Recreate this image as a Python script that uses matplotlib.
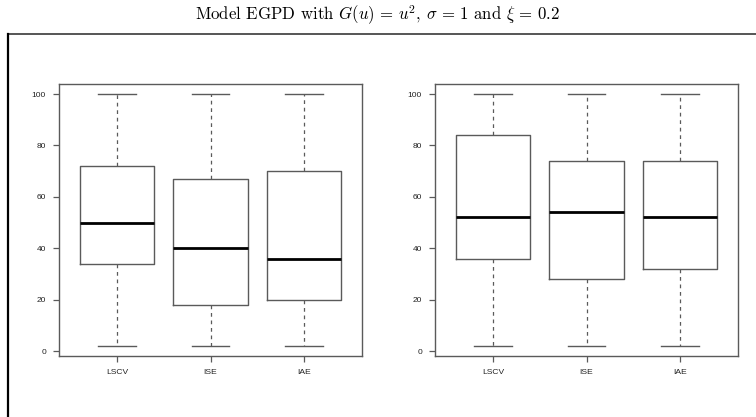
import matplotlib
matplotlib.use("Agg")
import matplotlib.pyplot as plt
from matplotlib.lines import Line2D

# bandwidth selectors on the x axis
methods = ["LSCV", "ISE", "IAE"]

# left panel: five-number summaries
left_low = [2, 2, 2]
left_q1 = [34, 18, 20]
left_med = [50, 40, 36]
left_q3 = [72, 67, 70]
left_high = [100, 100, 100]

# right panel
right_low = [2, 2, 2]
right_q1 = [36, 28, 32]
right_med = [52, 54, 52]
right_q3 = [84, 74, 74]
right_high = [100, 100, 100]

yticks = [0, 20, 40, 60, 80, 100]

plt.rcParams["mathtext.fontset"] = "cm"
plt.rcParams["font.family"] = ["Liberation Sans", "DejaVu Sans"]

W, H = 756, 417
fig = plt.figure(figsize=(W / 100, H / 100), dpi=100)

grey = "#5a5a5a"


def make_stats(low, q1, med, q3, high):
    stats = []
    for i in range(len(methods)):
        stats.append({"whislo": low[i], "q1": q1[i], "med": med[i],
                      "q3": q3[i], "whishi": high[i], "fliers": [],
                      "label": methods[i]})
    return stats


def draw_panel(ax, stats):
    ax.bxp(stats, positions=[1, 2, 3], widths=0.8, showfliers=False,
           boxprops=dict(color=grey, linewidth=1.0),
           medianprops=dict(color="black", linewidth=2.0),
           whiskerprops=dict(color=grey, linewidth=0.9, linestyle=(0, (3, 3))),
           capprops=dict(color=grey, linewidth=1.0),
           capwidths=0.4)
    ax.set_xlim(0.38, 3.62)
    ax.set_ylim(-1.92, 103.92)
    ax.set_yticks(yticks)
    ax.set_xticks([1, 2, 3])
    ax.set_xticklabels(methods)
    ax.tick_params(axis="y", length=4, width=0.9, color=grey, pad=5.4,
                   labelsize=6.0, labelcolor="#222222")
    ax.tick_params(axis="x", length=4, width=0.9, color=grey, pad=5.5,
                   labelsize=6.1, labelcolor="#222222")
    for s in ax.spines.values():
        s.set_color(grey)
        s.set_linewidth(1.0)


axl = fig.add_axes([59 / W, 1 - 356 / H, 303 / W, 272 / H])
draw_panel(axl, make_stats(left_low, left_q1, left_med, left_q3, left_high))

axr = fig.add_axes([435 / W, 1 - 356 / H, 303 / W, 272 / H])
draw_panel(axr, make_stats(right_low, right_q1, right_med, right_q3, right_high))

# outer frame (only top and left edges are visible)
fig.add_artist(Line2D([8 / W, 1], [1 - 34 / H, 1 - 34 / H], color="#555555",
                      linewidth=1.4, transform=fig.transFigure))
fig.add_artist(Line2D([8 / W, 8 / W], [0, 1 - 34 / H], color="black",
                      linewidth=1.6, transform=fig.transFigure))

fig.text(0.5, 1 - 15 / H,
         r"Model EGPD with $G(u)\,=\,u^2$, $\sigma\,=\,1$ and $\xi\,=\,0.2$",
         ha="center", va="center", fontsize=12.1, family="cmr10")

fig.savefig("out.png", dpi=100)
